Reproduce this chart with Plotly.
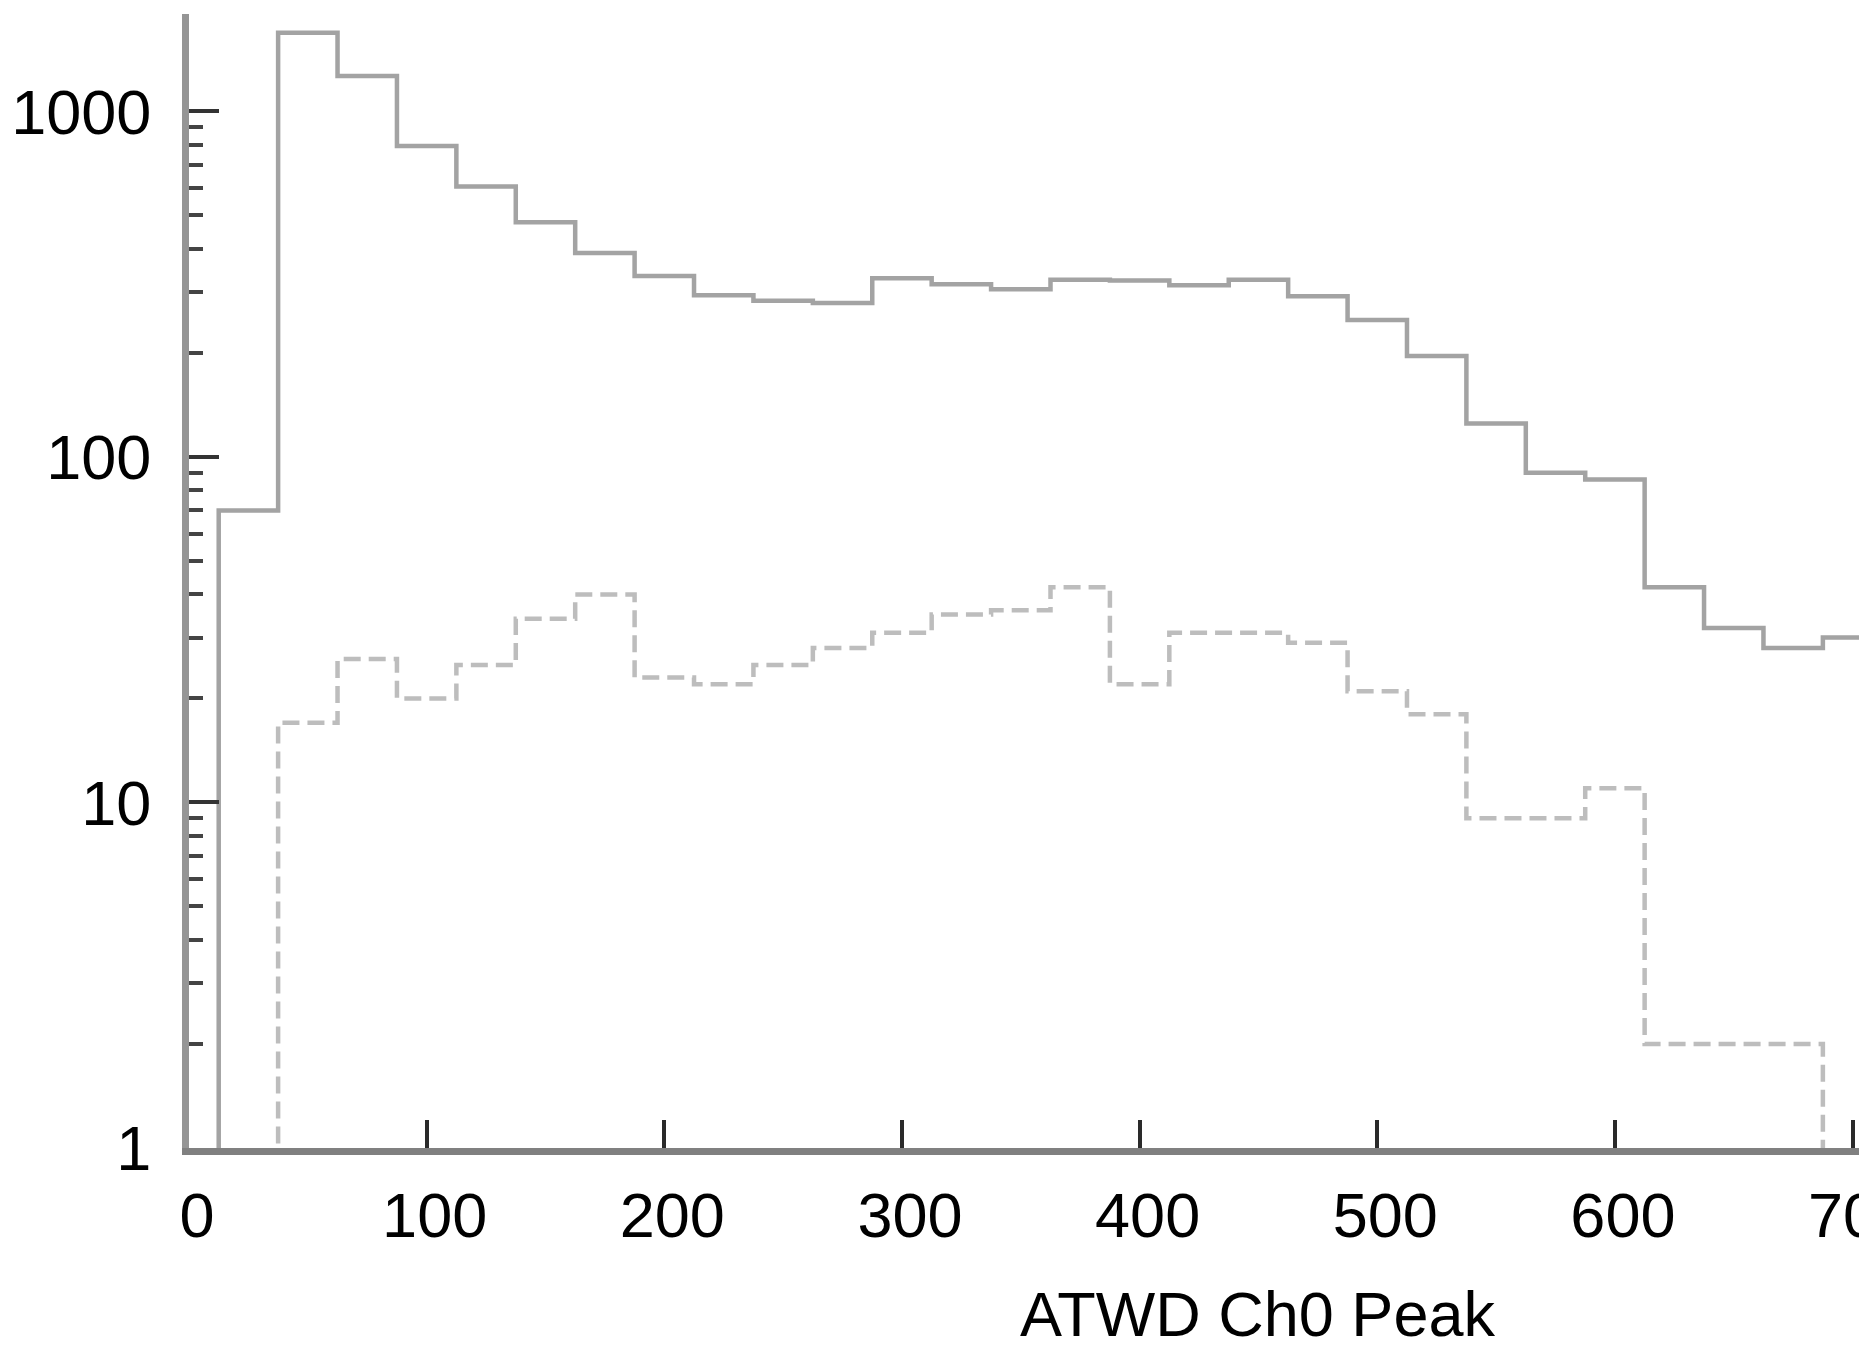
import numpy as np
import plotly.graph_objects as go

# Histogram bin edges (ATWD Ch0 Peak), bin width 25
bin_edges = [12.5 + 25 * i for i in range(29)]  # 12.5 ... 712.5

# Solid histogram (all events), one count per bin starting at 12.5
solid_counts = [70, 1690, 1267, 794, 606, 478, 389, 334, 294, 283, 279, 329, 316, 306,
                326, 324, 314, 326, 292, 249, 196, 125, 90, 86, 42, 32, 28, 30]

# Dashed histogram (selected events)
dashed_counts = [0, 17, 26, 20, 25, 34, 40, 23, 22, 25, 28, 31, 35, 36,
                 42, 22, 31, 31, 29, 21, 18, 9, 9, 11, 2, 2, 2, 0]

x_ticks = [0, 100, 200, 300, 400, 500, 600, 700]
y_ticks = [1, 10, 100, 1000]
y_tick_text = ["1", "10", "100", "1000"]

FLOOR = 0.1  # below visible range, for empty bins


def step_xy(edges, counts):
    c = np.asarray(counts, dtype=float)
    c = np.where(c > 0, c, FLOOR)
    xs = [edges[0]] + list(edges)
    ys = [FLOOR] + list(c) + [c[-1]]
    return xs, ys


first = next(i for i, v in enumerate(dashed_counts) if v > 0)
sx, sy = step_xy(bin_edges, solid_counts)
dx, dy = step_xy(bin_edges[first:], dashed_counts[first:])

fig = go.Figure()
fig.add_trace(go.Scatter(x=sx, y=sy, mode="lines", line_shape="hv",
                         line=dict(color="#a3a3a3", width=4.5), showlegend=False))
fig.add_trace(go.Scatter(x=dx, y=dy, mode="lines", line_shape="hv",
                         line=dict(color="#bdbdbd", width=4.5, dash="17px,8px"),
                         showlegend=False))

font = "Liberation Sans, Arial, Helvetica, sans-serif"

# page body has an 8px default margin; figure sized so the page matches 1871x1348
W, H = 1851, 1340
L, T, B = 181, 6, 199.5
plot_w, plot_h = W - L, H - T - B

fig.update_layout(
    width=W, height=H,
    margin=dict(l=L, r=0, t=T, b=B, pad=0, autoexpand=False),
    paper_bgcolor="white", plot_bgcolor="white",
    font=dict(family=font, size=63, color="black"),
    xaxis=dict(range=[0, 702.7], tickvals=x_ticks, ticks="inside", ticklen=28,
               tickwidth=4, tickcolor="#2a2a2a", showline=True, linewidth=7,
               linecolor="#808080", showgrid=False, zeroline=False,
               tickfont=dict(size=63, family=font, color="black"),
               ticklabelstandoff=6, ticklabelshift=8, ticklabeloverflow="allow",
               automargin=False),
    yaxis=dict(type="log", range=[0, 3.282], tickvals=y_ticks, ticktext=y_tick_text,
               ticks="inside", ticklen=30, tickwidth=4, tickcolor="#333",
               showline=True, linewidth=7, linecolor="#959595", showgrid=False,
               zeroline=False, tickfont=dict(size=63, family=font, color="black"),
               ticklabelstandoff=18, automargin=False,
               minor=dict(ticks="inside", ticklen=14, tickwidth=4, tickcolor="#444",
                          dtick="D1", showgrid=False)),
    annotations=[dict(text="ATWD Ch0 Peak", xref="paper", yref="paper",
                      x=(1249.5 - L) / plot_w, y=-(1306.5 - (T + plot_h)) / plot_h,
                      xanchor="center", yanchor="middle", showarrow=False,
                      font=dict(size=63, family=font, color="black"))],
)

fig.write_html("out.html")
